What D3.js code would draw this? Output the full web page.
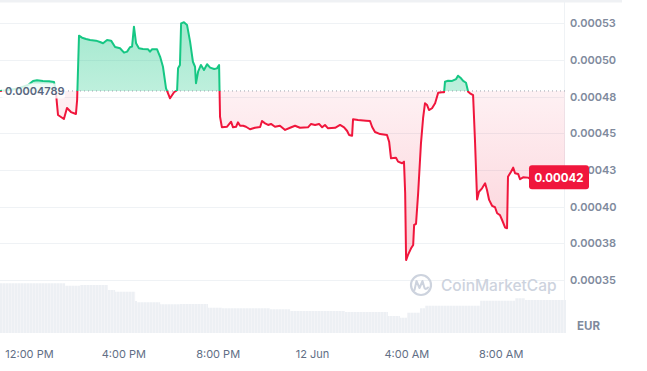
<!DOCTYPE html>
<html lang="en">
<head>
<meta charset="utf-8">
<title>Price chart</title>
<script src="https://cdn.jsdelivr.net/npm/d3@7"></script>
<style>
  body { margin: 0; background: #fff; }
  svg { display: block; font-family: Inter, "Noto Sans", sans-serif; }
</style>
</head>
<body>
<script>
// hours counted from 11 Jun 00:00, prices in EUR
var hoursFromJun11 = [10.75, 11.09, 11.51, 11.94, 12.15, 12.32, 12.57, 12.83, 13.04, 13.12,
  13.17, 13.21, 13.46, 13.59, 13.76, 13.97, 14.02, 14.10, 14.23, 14.40,
  14.57, 14.82, 14.99, 15.12, 15.29, 15.46, 15.63, 15.84, 16.01, 16.14,
  16.26, 16.35, 16.43, 16.52, 16.64, 16.81, 17.03, 17.11, 17.20, 17.41,
  17.54, 17.66, 17.79, 17.96, 18.13, 18.26, 18.30, 18.38, 18.43, 18.55,
  18.68, 18.81, 18.93, 19.02, 19.06, 19.15, 19.27, 19.40, 19.53, 19.66,
  19.83, 19.95, 20.04, 20.08, 20.16, 20.38, 20.55, 20.63, 20.76, 20.84,
  20.93, 21.06, 21.18, 21.35, 21.56, 21.78, 21.86, 21.99, 22.12, 22.24,
  22.41, 22.62, 22.84, 23.05, 23.26, 23.47, 23.81, 23.94, 24.11, 24.28,
  24.41, 24.53, 24.66, 24.96, 25.17, 25.34, 25.47, 25.55, 25.68, 25.72,
  25.93, 26.27, 26.44, 26.53, 26.65, 26.87, 27.16, 27.25, 27.33, 27.54,
  27.63, 27.80, 27.88, 27.93, 27.97, 28.05, 28.18, 28.27, 28.31, 28.39,
  28.48, 28.60, 28.69, 28.77, 28.86, 28.94, 29.07, 29.20, 29.33, 29.49,
  29.58, 29.62, 29.75, 29.92, 30.09, 30.17, 30.30, 30.39, 30.51, 30.60,
  30.68, 30.81, 30.89, 30.98, 31.06, 31.19, 31.32, 31.40, 31.49, 31.62,
  31.74, 31.83, 31.95, 32.04, 32.17, 32.25, 32.29, 32.42, 32.51, 32.59,
  32.72, 32.80, 32.93, 33.14, 33.31, 34.71];

var prices = [0.0004789, 0.0004795, 0.0004806, 0.0004830, 0.0004857, 0.0004862, 0.0004857, 0.0004855, 0.0004850, 0.0004782,
  0.0004693, 0.0004625, 0.0004598, 0.0004673, 0.0004645, 0.0004632, 0.0004727, 0.0005166, 0.0005152, 0.0005143,
  0.0005136, 0.0005132, 0.0005123, 0.0005114, 0.0005136, 0.0005132, 0.0005089, 0.0005080, 0.0005050, 0.0005057,
  0.0005087, 0.0005091, 0.0005227, 0.0005114, 0.0005080, 0.0005075, 0.0005073, 0.0005057, 0.0005073, 0.0005073,
  0.0005022, 0.0004954, 0.0004807, 0.0004739, 0.0004780, 0.0004795, 0.0004943, 0.0004966, 0.0005250, 0.0005257,
  0.0005239, 0.0005125, 0.0004988, 0.0004954, 0.0004841, 0.0004920, 0.0004966, 0.0004932, 0.0004971, 0.0004948,
  0.0004939, 0.0004943, 0.0004966, 0.0004613, 0.0004541, 0.0004545, 0.0004579, 0.0004541, 0.0004545, 0.0004575,
  0.0004552, 0.0004552, 0.0004545, 0.0004528, 0.0004538, 0.0004543, 0.0004584, 0.0004568, 0.0004557, 0.0004564,
  0.0004545, 0.0004552, 0.0004523, 0.0004538, 0.0004552, 0.0004538, 0.0004541, 0.0004564, 0.0004557, 0.0004564,
  0.0004541, 0.0004557, 0.0004534, 0.0004538, 0.0004557, 0.0004541, 0.0004516, 0.0004489, 0.0004484, 0.0004596,
  0.0004591, 0.0004586, 0.0004584, 0.0004543, 0.0004509, 0.0004495, 0.0004489, 0.0004443, 0.0004330, 0.0004334,
  0.0004307, 0.0004296, 0.0004307, 0.0004093, 0.0003636, 0.0003671, 0.0003716, 0.0003739, 0.0003875, 0.0003882,
  0.0004091, 0.0004432, 0.0004603, 0.0004705, 0.0004693, 0.0004659, 0.0004671, 0.0004705, 0.0004777, 0.0004780,
  0.0004780, 0.0004852, 0.0004859, 0.0004857, 0.0004870, 0.0004893, 0.0004875, 0.0004857, 0.0004845, 0.0004784,
  0.0004773, 0.0004761, 0.0004455, 0.0004049, 0.0004102, 0.0004125, 0.0004159, 0.0004114, 0.0004046, 0.0004005,
  0.0003996, 0.0003955, 0.0003943, 0.0003909, 0.0003857, 0.0003853, 0.0004204, 0.0004238, 0.0004266, 0.0004228,
  0.0004223, 0.0004187, 0.0004200, 0.0004198, 0.0004182, 0.0004200];

// rolling volume (relative units), step changes
var volumeHours = [10.75, 13.51, 14.14, 15.33, 15.63, 16.48, 16.56, 17.54, 18.38, 19.57,
  20.16, 22.20, 23.05, 25.38, 27.20, 27.71, 28.01, 28.56, 28.77, 31.11,
  32.59, 33.01, 34.75];
var volumes = [49.7, 47.3, 48, 43, 41.3, 32, 30.7, 28.7, 29, 25.3,
  24.7, 23.7, 22, 21, 17, 15.3, 20.3, 24.7, 27.3, 32.3,
  34.7, 33, 33];

var openPrice = 0.0004789;
var openLabel = "0.0004789";
var lastLabel = "0.00042";

var yTicks = [0.000525, 0.0005, 0.000475, 0.00045, 0.000425, 0.0004, 0.000375, 0.00035];
var yTickLabels = ["0.00053", "0.00050", "0.00048", "0.00045", "0.00043", "0.00040", "0.00038", "0.00035"];
var xTickHours = [12, 16, 20, 24, 28, 32];
var xTickLabels = ["12:00 PM", "4:00 PM", "8:00 PM", "12 Jun", "4:00 AM", "8:00 AM"];

var w = 647, h = 371;
var plotRight = 565, plotBottom = 333;
var green = "#16c784", red = "#f0163c";

var day0 = new Date(2024, 5, 11, 0, 0);
function toDate(hr) { return new Date(day0.getTime() + hr * 3600000); }

var priceData = hoursFromJun11.map(function(hr, i) { return { t: toDate(hr), v: prices[i] }; });
var volData = volumeHours.map(function(hr, i) { return { t: toDate(hr), v: volumes[i] }; });

var xScale = d3.scaleTime()
  .domain([toDate(10.75), toDate(34.75)])
  .range([0, 566]);

var yScale = d3.scaleLinear()
  .domain([0.00035, 0.000525])
  .range([280, 23.33]);

var volScale = d3.scaleLinear()
  .domain([0, 100])
  .range([plotBottom, plotBottom - 100]);

var baseY = yScale(openPrice);

var svg = d3.select("body").append("svg")
  .attr("width", w)
  .attr("height", h);

var defs = svg.append("defs");

var gGrad = defs.append("linearGradient").attr("id", "gGrad")
  .attr("gradientUnits", "userSpaceOnUse")
  .attr("x1", 0).attr("x2", 0).attr("y1", 20).attr("y2", baseY);
gGrad.append("stop").attr("offset", 0).attr("stop-color", green).attr("stop-opacity", 0.4);
gGrad.append("stop").attr("offset", 1).attr("stop-color", green).attr("stop-opacity", 0.28);

var rGrad = defs.append("linearGradient").attr("id", "rGrad")
  .attr("gradientUnits", "userSpaceOnUse")
  .attr("x1", 0).attr("x2", 0).attr("y1", baseY).attr("y2", 262);
rGrad.append("stop").attr("offset", 0).attr("stop-color", red).attr("stop-opacity", 0.06);
rGrad.append("stop").attr("offset", 1).attr("stop-color", red).attr("stop-opacity", 0.2);

defs.append("clipPath").attr("id", "above")
  .append("rect").attr("x", 0).attr("y", 0).attr("width", plotRight).attr("height", baseY);
defs.append("clipPath").attr("id", "below")
  .append("rect").attr("x", 0).attr("y", baseY).attr("width", plotRight).attr("height", plotBottom - baseY);

var stripes = defs.append("pattern").attr("id", "stripes")
  .attr("patternUnits", "userSpaceOnUse")
  .attr("width", 3).attr("height", 10);
stripes.append("rect").attr("width", 3).attr("height", 10).attr("fill", "#edf0f4");
stripes.append("rect").attr("x", 2.4).attr("width", 0.6).attr("height", 10).attr("fill", "#f7f8fa");

//top strip and frame
svg.append("rect").attr("x", 0).attr("y", 0).attr("width", 622).attr("height", 2.5).attr("fill", "#eff1f4");
svg.append("line")
  .attr("x1", plotRight - 0.5).attr("x2", plotRight - 0.5)
  .attr("y1", 2).attr("y2", plotBottom)
  .attr("stroke", "#eff2f5");

//gridlines
svg.selectAll("line.grid")
  .data(yTicks)
  .enter()
  .append("line")
  .attr("class", "grid")
  .attr("x1", 0).attr("x2", plotRight)
  .attr("y1", function(d) { return Math.round(yScale(d)) + 0.5; })
  .attr("y2", function(d) { return Math.round(yScale(d)) + 0.5; })
  .attr("stroke", "#eff2f5");

//volume
var volArea = d3.area()
  .curve(d3.curveStepAfter)
  .x(function(d) { return xScale(d.t); })
  .y0(plotBottom)
  .y1(function(d) { return volScale(d.v); });

svg.append("path")
  .datum(volData)
  .attr("d", volArea)
  .attr("fill", "url(#stripes)");

//watermark
var wm = svg.append("g").attr("fill", "none").attr("stroke", "#cdd3de");
wm.append("circle").attr("cx", 421).attr("cy", 285).attr("r", 10).attr("stroke-width", 2.2);
wm.append("path")
  .attr("d", "M414.5,290 L416.5,281 L419.5,288 L422.5,281 L424.5,288 Q425.5,290 428,287.5")
  .attr("stroke-width", 2).attr("stroke-linejoin", "round").attr("stroke-linecap", "round");
svg.append("text")
  .attr("x", 441).attr("y", 285)
  .attr("dominant-baseline", "central")
  .attr("font-size", "15.5px")
  .attr("font-weight", 500)
  .attr("fill", "#cdd3de")
  .text("CoinMarketCap");

//price area and line
var area = d3.area()
  .x(function(d) { return xScale(d.t); })
  .y0(baseY)
  .y1(function(d) { return yScale(d.v); });

var line = d3.line()
  .x(function(d) { return xScale(d.t); })
  .y(function(d) { return yScale(d.v); });

svg.append("path").datum(priceData).attr("d", area)
  .attr("fill", "url(#gGrad)").attr("clip-path", "url(#above)");
svg.append("path").datum(priceData).attr("d", area)
  .attr("fill", "url(#rGrad)").attr("clip-path", "url(#below)");

svg.append("line")
  .attr("x1", 0).attr("x2", plotRight)
  .attr("y1", baseY).attr("y2", baseY)
  .attr("stroke", "#9ca3ad")
  .attr("stroke-dasharray", "1,3");

svg.append("path").datum(priceData).attr("d", line)
  .attr("fill", "none").attr("stroke", green).attr("stroke-width", 2)
  .attr("stroke-linejoin", "round").attr("clip-path", "url(#above)");
svg.append("path").datum(priceData).attr("d", line)
  .attr("fill", "none").attr("stroke", red).attr("stroke-width", 2)
  .attr("stroke-linejoin", "round").attr("clip-path", "url(#below)");

//open price label
svg.append("rect")
  .attr("x", 2).attr("y", baseY - 7.5)
  .attr("width", 63).attr("height", 15).attr("rx", 2)
  .attr("fill", "#fff").attr("fill-opacity", 0.8);
svg.append("text")
  .attr("x", 5).attr("y", baseY + 0.5)
  .attr("dominant-baseline", "central")
  .attr("font-size", "11px")
  .attr("font-weight", 600)
  .attr("fill", "#58667e")
  .text(openLabel);

//y axis labels
svg.selectAll("text.ylab")
  .data(yTicks)
  .enter()
  .append("text")
  .attr("class", "ylab")
  .attr("x", 570)
  .attr("y", function(d) { return yScale(d); })
  .attr("dominant-baseline", "central")
  .attr("font-size", "11px")
  .attr("font-weight", 600)
  .attr("fill", "#808a9d")
  .text(function(d, i) { return yTickLabels[i]; });

svg.append("text")
  .attr("x", 577).attr("y", 326)
  .attr("dominant-baseline", "central")
  .attr("font-size", "11.5px")
  .attr("font-weight", 700)
  .attr("fill", "#808a9d")
  .text("EUR");

//x axis labels
svg.selectAll("text.xlab")
  .data(xTickHours)
  .enter()
  .append("text")
  .attr("class", "xlab")
  .attr("x", function(d) { return xScale(toDate(d)); })
  .attr("y", 353.5)
  .attr("text-anchor", "middle")
  .attr("dominant-baseline", "central")
  .attr("font-size", "11px")
  .attr("fill", "#616e85")
  .text(function(d, i) { return xTickLabels[i]; });

//last price tag
var last = priceData[priceData.length - 1];
svg.append("rect")
  .attr("x", 529).attr("y", yScale(last.v) - 12)
  .attr("width", 60).attr("height", 24).attr("rx", 3)
  .attr("fill", red);
svg.append("text")
  .attr("x", 559).attr("y", yScale(last.v) + 0.5)
  .attr("text-anchor", "middle")
  .attr("dominant-baseline", "central")
  .attr("font-size", "11.5px")
  .attr("font-weight", 700)
  .attr("fill", "#fff")
  .text(lastLabel);
</script>
</body>
</html>
